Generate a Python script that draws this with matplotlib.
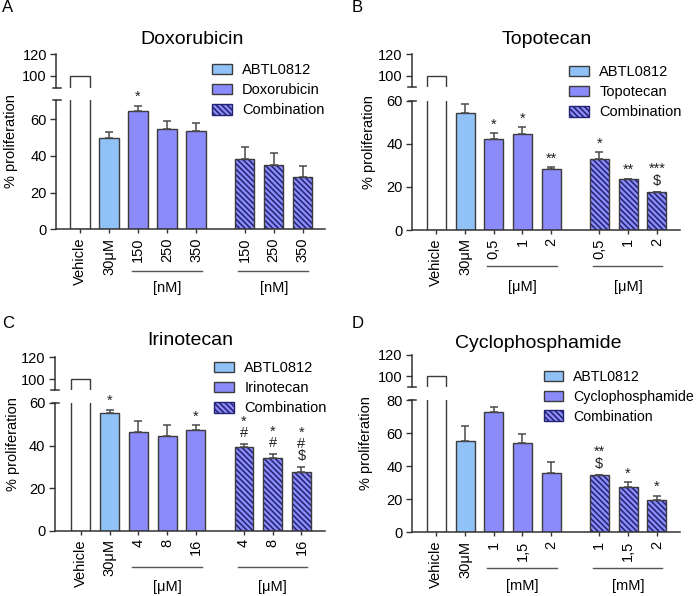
import numpy as np
import matplotlib
matplotlib.use('Agg')
import matplotlib.pyplot as plt
import matplotlib.transforms as mtransforms
from matplotlib.patches import Patch

plt.rcParams['font.family'] = ['Liberation Sans', 'DejaVu Sans']
plt.rcParams['hatch.linewidth'] = 1.1

W, H = 699, 596

vehicle_value = 100

# A - Doxorubicin
dox_abtl = 50.0
dox_abtl_err = 3.3
dox_doses = ['150', '250', '350']
dox_drug = [64.7, 54.7, 53.5]
dox_drug_err = [2.8, 4.2, 4.3]
dox_comb = [38.4, 35.3, 28.4]
dox_comb_err = [6.7, 6.5, 6.0]
dox_marks = ['', '', '*', '', '', '', '', '']

# B - Topotecan
top_abtl = 54.4
top_abtl_err = 4.0
top_doses = ['0,5', '1', '2']
top_drug = [42.0, 44.4, 28.4]
top_drug_err = [2.8, 3.2, 0.7]
top_comb = [32.8, 23.5, 17.5]
top_comb_err = [3.2, 0.2, 0.2]
top_marks = ['', '', '*', '*', '**', '*', '**', '***\n$']

# C - Irinotecan
iri_abtl = 55.2
iri_abtl_err = 1.7
iri_doses = ['4', '8', '16']
iri_drug = [46.2, 44.5, 47.2]
iri_drug_err = [5.5, 5.3, 2.3]
iri_comb = [39.3, 34.0, 27.6]
iri_comb_err = [1.3, 1.9, 2.2]
iri_marks = ['', '*', '', '', '*', '*\n#', '*\n#', '*\n#\n$']

# D - Cyclophosphamide
cyc_abtl = 55.0
cyc_abtl_err = 9.3
cyc_doses = ['1', '1,5', '2']
cyc_drug = [72.8, 54.0, 36.1]
cyc_drug_err = [2.8, 5.3, 6.2]
cyc_comb = [34.5, 27.2, 19.6]
cyc_comb_err = [0.4, 3.0, 2.4]
cyc_marks = ['', '', '', '', '', '**\n$', '*', '*']

blue = '#90c2f7'
purple = '#8b8bfb'
hatch_col = '#22226e'
edge = '#3c3c3c'
axis_col = '#333333'

pos = np.array([0, 1, 2, 3, 4, 5.68, 6.68, 7.68])
bw = 0.66


def draw_panel(fig, lay, letter, title, drug_name, abtl, abtl_err, doses, drug, drug_err,
               comb, comb_err, marks, unit):
    left, right, lb, lt, ub, ut = lay['box']
    ax_lo = fig.add_axes([left / W, 1 - lb / H, (right - left) / W, (lb - lt) / H])
    ax_up = fig.add_axes([left / W, 1 - ub / H, (right - left) / W, (ub - ut) / H])

    for ax in (ax_lo, ax_up):
        ax.bar(pos[0], vehicle_value, width=bw, color='white', edgecolor=edge, linewidth=1.0)
        ax.set_xlim(*lay['xlim'])
        ax.spines['top'].set_visible(False)
        ax.spines['right'].set_visible(False)
        ax.spines['left'].set_color(axis_col)
        ax.spines['bottom'].set_color(axis_col)
        ax.spines['left'].set_linewidth(1.1)
        ax.spines['bottom'].set_linewidth(1.1)
        ax.tick_params(axis='y', length=4.5, width=1.0, color=axis_col, labelsize=10.5, pad=2)
        ax.patch.set_alpha(0)

    ax_lo.bar(pos[1], abtl, width=bw, color=blue, edgecolor=edge, linewidth=1.0)
    ax_lo.bar(pos[2:5], drug, width=bw, color=purple, edgecolor=edge, linewidth=1.0)
    ax_lo.bar(pos[5:], comb, width=bw, color=purple, edgecolor=hatch_col, linewidth=0,
              hatch='\\\\\\\\\\\\')
    ax_lo.bar(pos[5:], comb, width=bw, fill=False, edgecolor=edge, linewidth=1.0)

    vals = np.array([abtl] + list(drug) + list(comb))
    errs = np.array([abtl_err] + list(drug_err) + list(comb_err))
    ax_lo.errorbar(pos[1:], vals, yerr=[np.zeros_like(errs), errs], fmt='none',
                   ecolor='#4a4a4a', elinewidth=1.1, capsize=3, capthick=1.1)

    ax_lo.set_ylim(0, lay['ylo'])
    ax_lo.set_yticks(lay['yticks'])
    ax_up.set_ylim(lay['yup'], 120)
    ax_up.set_yticks([100, 120])
    ax_up.spines['bottom'].set_visible(False)
    ax_up.set_xticks([])

    ax_lo.set_xticks(pos)
    ax_lo.set_xticklabels(['Vehicle', '30\u03bcM'] + doses + doses, rotation=90, fontsize=10.5)
    ax_lo.tick_params(axis='x', length=3, width=1.0, color=axis_col, pad=3)

    # axis break marks
    ax_up.plot([-0.013, 0.017], [0, 0], transform=ax_up.transAxes, color=axis_col,
               lw=1.1, clip_on=False)
    ax_lo.plot([-0.01, 0.017], [1, 1], transform=ax_lo.transAxes, color=axis_col,
               lw=1.1, clip_on=False)

    # significance marks (one text per bar, stacked lines)
    tops = np.concatenate([[0], vals + errs])
    for i, m in enumerate(marks):
        if not m:
            continue
        last = m.split('\n')[-1]
        off_px = 2 if '*' in last else 4
        tr = mtransforms.offset_copy(ax_lo.transData, fig=fig, x=0, y=off_px * 0.72,
                                     units='points')
        ax_lo.text(pos[i], tops[i], m, transform=tr, ha='center', va='bottom',
                   multialignment='center', linespacing=0.8, fontsize=10.5,
                   clip_on=False, color='#222222')

    # dose group lines
    trans = mtransforms.blended_transform_factory(ax_lo.transData, fig.transFigure)
    for grp in (pos[2:5], pos[5:8]):
        ax_lo.plot([grp[0] - 0.22, grp[-1] + 0.2], [1 - lay['line_y'] / H] * 2,
                   transform=trans, color='#555555', lw=1.0, clip_on=False)
        ax_lo.text(grp.mean(), 1 - lay['unit_y'] / H, unit, transform=trans,
                   ha='center', va='center', fontsize=10.5)

    fig.text(lay['ylab'][0] / W, 1 - lay['ylab'][1] / H, '% proliferation', rotation=90,
             ha='center', va='center', fontsize=10.5)
    fig.text(lay['title'][0] / W, 1 - lay['title'][1] / H, title, ha='center',
             va='center', fontsize=14)
    fig.text(lay['letter'][0] / W, 1 - lay['letter'][1] / H, letter, ha='left',
             va='center', fontsize=12)

    handles = [Patch(facecolor=blue, edgecolor=edge, linewidth=1.0),
               Patch(facecolor=purple, edgecolor=edge, linewidth=1.0),
               Patch(facecolor=purple, edgecolor=hatch_col, linewidth=1.0,
                     hatch='\\\\\\\\\\\\')]
    lx, ly = lay['legend']
    ax_lo.legend(handles, ['ABTL0812', drug_name, 'Combination'], loc='upper left',
                 bbox_to_anchor=(lx / W, 1 - (ly - 7) / H), bbox_transform=fig.transFigure,
                 frameon=False, fontsize=lay['legend_fs'], borderpad=0, borderaxespad=0,
                 handlelength=1.37, handleheight=0.75, handletextpad=0.7, labelspacing=0.42)


fig = plt.figure(figsize=(W / 100, H / 100), dpi=100)

lay_a = dict(box=(56, 325, 229.3, 100, 87.7, 54.3), xlim=(-0.83, 8.45), ylo=70.5,
             yticks=[0, 20, 40, 60], yup=89.2, line_y=271, unit_y=288, ylab=(11, 141),
             title=(192, 40), letter=(2, 8), legend=(212, 70), legend_fs=10.5)
lay_b = dict(box=(411.7, 680, 230, 100.7, 87.3, 54), xlim=(-0.86, 8.49), ylo=60,
             yticks=[0, 20, 40, 60], yup=89.7, line_y=265.7, unit_y=287, ylab=(369, 142.5),
             title=(546.7, 40), letter=(352, 8), legend=(569, 72), legend_fs=10.5)
lay_c = dict(box=(54.5, 325, 530.7, 403, 389.7, 357.3), xlim=(-0.92, 8.5), ylo=60,
             yticks=[0, 20, 40, 60], yup=90.2, line_y=566.7, unit_y=586.7, ylab=(12.5, 444),
             title=(190, 340.7), letter=(2, 323), legend=(214, 368), legend_fs=10.5)
lay_d = dict(box=(411.7, 680, 532.3, 400, 387.3, 354.7), xlim=(-0.86, 8.49), ylo=80,
             yticks=[0, 20, 40, 60, 80], yup=89.8, line_y=567.7, unit_y=586, ylab=(366, 443),
             title=(538, 344), letter=(352, 324), legend=(544, 376.7), legend_fs=10.2)

draw_panel(fig, lay_a, 'A', 'Doxorubicin', 'Doxorubicin', dox_abtl, dox_abtl_err, dox_doses,
           dox_drug, dox_drug_err, dox_comb, dox_comb_err, dox_marks, '[nM]')
draw_panel(fig, lay_b, 'B', 'Topotecan', 'Topotecan', top_abtl, top_abtl_err, top_doses,
           top_drug, top_drug_err, top_comb, top_comb_err, top_marks, '[\u03bcM]')
draw_panel(fig, lay_c, 'C', 'Irinotecan', 'Irinotecan', iri_abtl, iri_abtl_err, iri_doses,
           iri_drug, iri_drug_err, iri_comb, iri_comb_err, iri_marks, '[\u03bcM]')
draw_panel(fig, lay_d, 'D', 'Cyclophosphamide', 'Cyclophosphamide', cyc_abtl, cyc_abtl_err,
           cyc_doses, cyc_drug, cyc_drug_err, cyc_comb, cyc_comb_err, cyc_marks, '[mM]')

fig.savefig('out.png', dpi=100)
